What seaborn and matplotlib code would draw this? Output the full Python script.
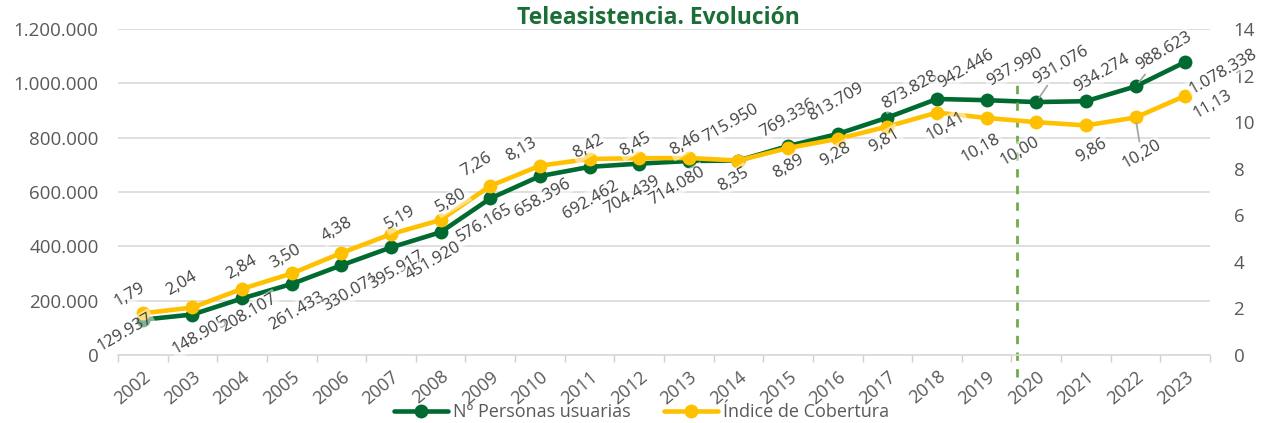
import pandas as pd
import matplotlib.pyplot as plt
import seaborn as sns
from matplotlib.lines import Line2D

# Datos
years = ['2002', '2003', '2004', '2005', '2006', '2007', '2008', '2009', '2010', '2011', '2012',
         '2013', '2014', '2015', '2016', '2017', '2018', '2019', '2020', '2021', '2022', '2023']
usuarias = [129937, 148905, 208107, 261433, 330071, 395917, 451920, 576165, 658396, 692462, 704439,
            714080, 715950, 769336, 813709, 873828, 942446, 937990, 931076, 934274, 988623, 1078338]
cobertura = [1.79, 2.04, 2.84, 3.50, 4.38, 5.19, 5.80, 7.26, 8.13, 8.42, 8.45,
             8.46, 8.35, 8.89, 9.28, 9.81, 10.41, 10.18, 10.00, 9.86, 10.20, 11.13]

# desplazamiento de las etiquetas (pixeles)
off_usuarias = [(-18, -13), (8, -21), (7, -15), (5, -27), (10, -27), (6, -23), (-7, -29), (-6, -25),
                (3, -22), (1, -33), (-7, -31), (-12, -25), (-8, 37), (0, 28), (-2, 32), (23, 28),
                (29, 30), (28, 33), (25, 37), (16, 28), (28, 35), (38, -10)]
off_cobertura = [(-13, 19), (-11, 24), (-1, 21), (-6, 17), (-4, 23), (9, 16), (11, 19), (-14, 21),
                 (-19, 16), (-1, 12), (-4, 14), (-3, 14), (-5, -19), (0, -19), (-2, -16), (-3, -14),
                 (9, -14), (-6, -30), (-16, -29), (6, -25), (6, -37), (28, -8)]
leader_usuarias = ['2020', '2022']
leader_cobertura = ['2022']

VERDE = '#006a31'
AMARILLO = '#FFC000'
GRIS = '#595959'

sns.set_theme(style="white")
plt.rcParams['font.family'] = ['Open Sans', 'DejaVu Sans']

df = pd.DataFrame({'pos': range(len(years)), 'year': years,
                   'usuarias': usuarias, 'cobertura': cobertura})

fig = plt.figure(figsize=(12.63, 4.23), dpi=100)
ax = fig.add_axes([0.0934, 0.1608, 0.8646, 0.7706])
ax2 = ax.twinx()

sns.lineplot(data=df, x='pos', y='usuarias', ax=ax, color=VERDE, lw=3.3, marker='o',
             markersize=10, markeredgewidth=0, legend=False)
sns.lineplot(data=df, x='pos', y='cobertura', ax=ax2, color=AMARILLO, lw=3.3, marker='o',
             markersize=10, markeredgewidth=0, legend=False)

ax.set_xlim(-0.5, len(years) - 0.5)
ax.set_ylim(0, 1200000)
ax2.set_ylim(0, 14)

ax.set_yticks(range(0, 1200001, 200000))
ax.set_yticklabels([f"{v:,}".replace(",", ".") for v in range(0, 1200001, 200000)])
ax2.set_yticks(range(0, 15, 2))
ax.tick_params(axis='y', length=0, labelcolor=GRIS, labelsize=13.5, pad=14)
ax2.tick_params(axis='y', length=0, labelcolor=GRIS, labelsize=13.5, pad=17)

ax.set_xticks(range(len(years)))
ax.set_xticklabels(years, rotation=40, ha='right', va='top', rotation_mode='anchor')
ax.set_xticks([i - 0.5 for i in range(len(years) + 1)], minor=True)
ax.tick_params(axis='x', which='major', length=0, labelcolor=GRIS, labelsize=13, pad=9)
ax.tick_params(axis='x', which='minor', length=5, color='#d0d0d0', width=1, bottom=True)

ax.set_xlabel('')
ax.set_ylabel('')
ax2.set_ylabel('')
ax.yaxis.grid(True, color='#d9d9d9', lw=1.2)
ax.xaxis.grid(False)
ax2.grid(False)
for s in ['top', 'left', 'right']:
    ax.spines[s].set_visible(False)
for s in ax2.spines.values():
    s.set_visible(False)
ax.spines['bottom'].set_color('#d9d9d9')
ax.spines['bottom'].set_linewidth(1.2)

# linea discontinua 2019/2020
ax.axvline(17.62, ymin=-0.067, ymax=0.834, color='#70AD47', lw=2, ls=(0, (3, 3)), clip_on=False)

# etiquetas de datos
caja = dict(boxstyle='square,pad=0.1', fc='white', ec='none', alpha=0.5)
for i, (v, off) in enumerate(zip(usuarias, off_usuarias)):
    ap = None
    if years[i] in leader_usuarias:
        ap = dict(arrowstyle='-', color='#a6a6a6', lw=1.3, shrinkA=2, shrinkB=4)
    ax2.annotate(f"{v:,}".replace(",", "."), xy=(i, v), xycoords=ax.transData,
                 xytext=off, textcoords='offset pixels', ha='center', va='center',
                 rotation=30, fontsize=12, color='#404040', bbox=caja, arrowprops=ap)
for i, (v, off) in enumerate(zip(cobertura, off_cobertura)):
    ap = None
    if years[i] in leader_cobertura:
        ap = dict(arrowstyle='-', color='#a6a6a6', lw=1.3, shrinkA=2, shrinkB=4)
    ax2.annotate(f"{v:.2f}".replace(".", ","), xy=(i, v), xytext=off,
                 textcoords='offset pixels', ha='center', va='center',
                 rotation=30, fontsize=12, color='#404040', bbox=caja, arrowprops=ap)

fig.text(0.521, 1 - 18 / 423, 'Teleasistencia. Evolución', ha='center', va='center',
         fontsize=16.5, fontweight='bold', color='#1B6E35')

handles = [Line2D([], [], color=VERDE, lw=3.3, marker='o', markersize=10, markeredgewidth=0),
           Line2D([], [], color=AMARILLO, lw=3.3, marker='o', markersize=10, markeredgewidth=0)]
fig.legend(handles, ['Nº Personas usuarias', 'Índice de Cobertura'], loc='center',
           bbox_to_anchor=(0.508, 1 - 412 / 423), ncol=2, frameon=False, fontsize=13,
           handlelength=3.0, handletextpad=0.3, columnspacing=1.8, labelcolor=GRIS,
           borderpad=0)

fig.savefig('out.png', dpi=100)
